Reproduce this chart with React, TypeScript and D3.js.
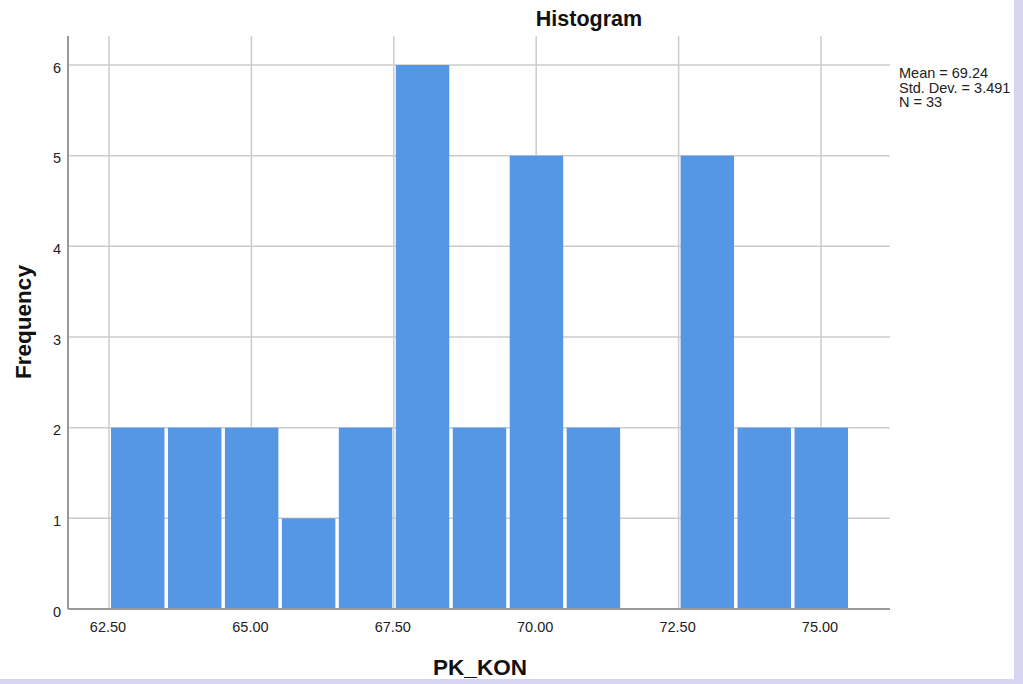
import React from "react";
import * as d3 from "d3";

const binStarts = [62.5, 63.5, 64.5, 65.5, 66.5, 67.5, 68.5, 69.5, 70.5, 71.5, 72.5, 73.5, 74.5];
const frequencies = [2, 2, 2, 1, 2, 6, 2, 5, 2, 0, 5, 2, 2];
const binWidth = 1;
const xTicks = [62.5, 65, 67.5, 70, 72.5, 75];
const yTicks = [0, 1, 2, 3, 4, 5, 6];
const statsLines = ["Mean = 69.24", "Std. Dev. = 3.491", "N = 33"];

export default function App() {
  const W = 1023, H = 684;
  const x = d3.scaleLinear().domain([62.5, 75]).range([109, 821]);
  const y = d3.scaleLinear().domain([0, 6]).range([609, 65]);
  const left = 68, right = 890, top = 36, bottom = 609;
  const font = "Arial, 'Liberation Sans', sans-serif";
  return (
    <svg width={W} height={H} style={{ position: "absolute", left: 0, top: 0 }} fontFamily={font}>
      <rect x={0} y={0} width={W} height={H} fill="#d6d6f2" />
      <rect x={0} y={0} width={1014} height={679} fill="#ffffff" />
      <text x={589} y={26} textAnchor="middle" fontSize={21.5} fontWeight="bold" fill="#111">Histogram</text>
      {yTicks.filter(t => t > 0).map(t => (
        <line key={"gy" + t} x1={left} x2={right} y1={y(t)} y2={y(t)} stroke="#cccccc" strokeWidth={1.5} />
      ))}
      {xTicks.map(t => (
        <line key={"gx" + t} x1={x(t)} x2={x(t)} y1={top} y2={bottom} stroke="#cccccc" strokeWidth={1.5} />
      ))}
      {binStarts.map((b, i) => frequencies[i] > 0 ? (
        <rect key={"b" + i} x={x(b) + 2} y={y(frequencies[i])} width={x(b + binWidth) - x(b) - 3.5}
          height={y(0) - y(frequencies[i])} fill="#5596e5" />
      ) : null)}
      <line x1={left} x2={left} y1={top} y2={bottom} stroke="#999" strokeWidth={2} />
      <line x1={left} x2={right} y1={bottom} y2={bottom} stroke="#999" strokeWidth={2} />
      {yTicks.map(t => (
        <text key={"ty" + t} x={61} y={y(t) + 7.5} textAnchor="end" fontSize={14.5} fill="#222">{t}</text>
      ))}
      {xTicks.map(t => (
        <text key={"tx" + t} x={x(t) - 1} y={632} textAnchor="middle" fontSize={14.5} fill="#222">{t.toFixed(2)}</text>
      ))}
      <text transform="translate(31,322) rotate(-90)" textAnchor="middle" fontSize={22.5} fontWeight="bold" fill="#111">Frequency</text>
      <text x={480} y={675} textAnchor="middle" fontSize={22.5} fontWeight="bold" fill="#111">PK_KON</text>
      {statsLines.map((s, i) => (
        <text key={"s" + i} x={899} y={78 + i * 14.5} fontSize={14.5} fill="#222">{s}</text>
      ))}
    </svg>
  );
}
